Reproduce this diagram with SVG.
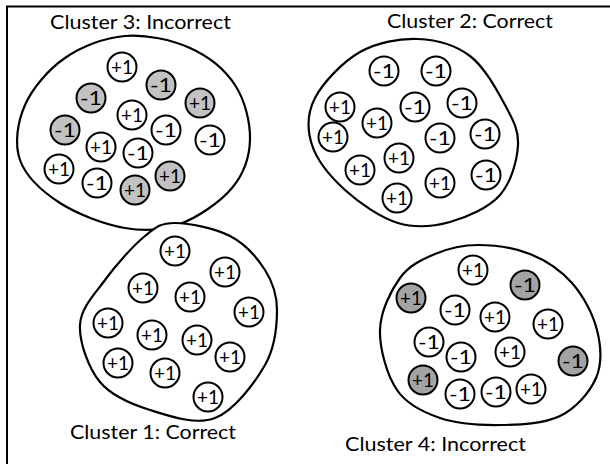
<svg xmlns="http://www.w3.org/2000/svg" width="610" height="464" viewBox="0 0 610 464">
<style>
.frame{fill:none;stroke:#000;stroke-width:2}
.blob{fill:#fff;stroke:#000;stroke-width:2.2}
.n circle{fill:#fff;stroke:#000;stroke-width:2}
.n.g3 circle{fill:#c2c2c2}
.n.g4 circle{fill:#a3a3a3}
.n text{font-family:Lato,"Liberation Sans",sans-serif;font-size:20px;text-anchor:middle;fill:#000}
.title{font-family:Lato,"Liberation Sans",sans-serif;font-size:19.5px;fill:#000}
</style>
<rect width="610" height="464" fill="#fff"/>
<path class="frame" d="M7,464 V6.5 H610"/>
<g id="connectors"/>

<g id="cluster3">
<text class="title" x="50" y="29" textLength="181" lengthAdjust="spacingAndGlyphs">Cluster 3: Incorrect</text>
<path class="blob" d="M125,36 C145.8,34.3 171.7,39.8 190,48 C208.3,56.2 225,69.7 235,85 C245,100.3 250.5,122.8 250,140 C249.5,157.2 243.7,174 232,188 C220.3,202 197.8,217.3 180,224 C162.2,230.7 145,231.5 125,228 C105,224.5 77.5,214.3 60,203 C42.5,191.7 25.8,176.3 20,160 C14.2,143.7 17.5,122 25,105 C32.5,88 48.3,69.5 65,58 C81.7,46.5 104.2,37.7 125,36 Z"/>
<g id="c3n1" class="n"><circle cx="122" cy="67" r="14.5"/><text x="122" y="74" textLength="22" lengthAdjust="spacingAndGlyphs">+1</text></g>
<g id="c3n2" class="n g3"><circle cx="161" cy="85" r="14.5"/><text x="161" y="92" textLength="22" lengthAdjust="spacingAndGlyphs">-1</text></g>
<g id="c3n3" class="n g3"><circle cx="91" cy="98" r="14.5"/><text x="91" y="105" textLength="22" lengthAdjust="spacingAndGlyphs">-1</text></g>
<g id="c3n4" class="n g3"><circle cx="200" cy="103" r="14.5"/><text x="200" y="110" textLength="22" lengthAdjust="spacingAndGlyphs">+1</text></g>
<g id="c3n5" class="n"><circle cx="132" cy="115" r="14.5"/><text x="132" y="122" textLength="22" lengthAdjust="spacingAndGlyphs">+1</text></g>
<g id="c3n6" class="n g3"><circle cx="65" cy="130" r="14.5"/><text x="65" y="137" textLength="22" lengthAdjust="spacingAndGlyphs">-1</text></g>
<g id="c3n7" class="n"><circle cx="166" cy="130" r="14.5"/><text x="166" y="137" textLength="22" lengthAdjust="spacingAndGlyphs">-1</text></g>
<g id="c3n8" class="n"><circle cx="210" cy="140" r="14.5"/><text x="210" y="147" textLength="22" lengthAdjust="spacingAndGlyphs">-1</text></g>
<g id="c3n9" class="n"><circle cx="101" cy="147" r="14.5"/><text x="101" y="154" textLength="22" lengthAdjust="spacingAndGlyphs">+1</text></g>
<g id="c3n10" class="n"><circle cx="138" cy="153" r="14.5"/><text x="138" y="160" textLength="22" lengthAdjust="spacingAndGlyphs">-1</text></g>
<g id="c3n11" class="n"><circle cx="59" cy="169" r="14.5"/><text x="59" y="176" textLength="22" lengthAdjust="spacingAndGlyphs">+1</text></g>
<g id="c3n12" class="n"><circle cx="97" cy="183" r="14.5"/><text x="97" y="190" textLength="22" lengthAdjust="spacingAndGlyphs">-1</text></g>
<g id="c3n13" class="n g3"><circle cx="135" cy="190" r="14.5"/><text x="135" y="197" textLength="22" lengthAdjust="spacingAndGlyphs">+1</text></g>
<g id="c3n14" class="n g3"><circle cx="170" cy="176" r="14.5"/><text x="170" y="183" textLength="22" lengthAdjust="spacingAndGlyphs">+1</text></g>
</g>

<g id="cluster2">
<text class="title" x="387" y="27.5" textLength="166" lengthAdjust="spacingAndGlyphs">Cluster 2: Correct</text>
<path class="blob" d="M418,39 C436.3,39.7 455.5,45 470,56 C484.5,67 497,90.2 505,105 C513,119.8 518.8,130 518,145 C517.2,160 511.3,182.2 500,195 C488.7,207.8 467,217.3 450,222 C433,226.7 415.5,228.3 398,223 C380.5,217.7 359.3,203 345,190 C330.7,177 317,160.3 312,145 C307,129.7 307,113.5 315,98 C323,82.5 342.8,61.8 360,52 C377.2,42.2 399.7,38.3 418,39 Z"/>
<g id="c2n1" class="n"><circle cx="384" cy="71" r="14.5"/><text x="384" y="78" textLength="22" lengthAdjust="spacingAndGlyphs">-1</text></g>
<g id="c2n2" class="n"><circle cx="436" cy="71" r="14.5"/><text x="436" y="78" textLength="22" lengthAdjust="spacingAndGlyphs">-1</text></g>
<g id="c2n3" class="n"><circle cx="340" cy="107" r="14.5"/><text x="340" y="114" textLength="22" lengthAdjust="spacingAndGlyphs">+1</text></g>
<g id="c2n4" class="n"><circle cx="415" cy="107" r="14.5"/><text x="415" y="114" textLength="22" lengthAdjust="spacingAndGlyphs">-1</text></g>
<g id="c2n5" class="n"><circle cx="462" cy="103" r="14.5"/><text x="462" y="110" textLength="22" lengthAdjust="spacingAndGlyphs">-1</text></g>
<g id="c2n6" class="n"><circle cx="377" cy="123" r="14.5"/><text x="377" y="130" textLength="22" lengthAdjust="spacingAndGlyphs">+1</text></g>
<g id="c2n7" class="n"><circle cx="333" cy="137" r="14.5"/><text x="333" y="144" textLength="22" lengthAdjust="spacingAndGlyphs">+1</text></g>
<g id="c2n8" class="n"><circle cx="440" cy="138" r="14.5"/><text x="440" y="145" textLength="22" lengthAdjust="spacingAndGlyphs">-1</text></g>
<g id="c2n9" class="n"><circle cx="485" cy="134" r="14.5"/><text x="485" y="141" textLength="22" lengthAdjust="spacingAndGlyphs">-1</text></g>
<g id="c2n10" class="n"><circle cx="399" cy="158" r="14.5"/><text x="399" y="165" textLength="22" lengthAdjust="spacingAndGlyphs">+1</text></g>
<g id="c2n11" class="n"><circle cx="360" cy="170" r="14.5"/><text x="360" y="177" textLength="22" lengthAdjust="spacingAndGlyphs">+1</text></g>
<g id="c2n12" class="n"><circle cx="486" cy="175" r="14.5"/><text x="486" y="182" textLength="22" lengthAdjust="spacingAndGlyphs">-1</text></g>
<g id="c2n13" class="n"><circle cx="440" cy="183" r="14.5"/><text x="440" y="190" textLength="22" lengthAdjust="spacingAndGlyphs">+1</text></g>
<g id="c2n14" class="n"><circle cx="397" cy="198" r="14.5"/><text x="397" y="205" textLength="22" lengthAdjust="spacingAndGlyphs">+1</text></g>
</g>

<g id="cluster1">
<text class="title" x="70" y="438.5" textLength="166" lengthAdjust="spacingAndGlyphs">Cluster 1: Correct</text>
<path class="blob" d="M175,223 C189.2,223 215,228.2 230,236 C245,243.8 257.2,257.7 265,270 C272.8,282.3 277,294.2 277,310 C277,325.8 275.3,347 265,365 C254.7,383 234.2,410.5 215,418 C195.8,425.5 169.2,416 150,410 C130.8,404 111.7,396.2 100,382 C88.3,367.8 79.2,342 80,325 C80.8,308 94.2,294.8 105,280 C115.8,265.2 133.3,245.5 145,236 C156.7,226.5 160.8,223 175,223 Z"/>
<g id="c1n1" class="n"><circle cx="175" cy="251" r="14.5"/><text x="175" y="258" textLength="22" lengthAdjust="spacingAndGlyphs">+1</text></g>
<g id="c1n2" class="n"><circle cx="225" cy="272" r="14.5"/><text x="225" y="279" textLength="22" lengthAdjust="spacingAndGlyphs">+1</text></g>
<g id="c1n3" class="n"><circle cx="143" cy="288" r="14.5"/><text x="143" y="295" textLength="22" lengthAdjust="spacingAndGlyphs">+1</text></g>
<g id="c1n4" class="n"><circle cx="190" cy="297" r="14.5"/><text x="190" y="304" textLength="22" lengthAdjust="spacingAndGlyphs">+1</text></g>
<g id="c1n5" class="n"><circle cx="249" cy="312" r="14.5"/><text x="249" y="319" textLength="22" lengthAdjust="spacingAndGlyphs">+1</text></g>
<g id="c1n6" class="n"><circle cx="108" cy="323" r="14.5"/><text x="108" y="330" textLength="22" lengthAdjust="spacingAndGlyphs">+1</text></g>
<g id="c1n7" class="n"><circle cx="152" cy="335" r="14.5"/><text x="152" y="342" textLength="22" lengthAdjust="spacingAndGlyphs">+1</text></g>
<g id="c1n8" class="n"><circle cx="197" cy="340" r="14.5"/><text x="197" y="347" textLength="22" lengthAdjust="spacingAndGlyphs">+1</text></g>
<g id="c1n9" class="n"><circle cx="118" cy="363" r="14.5"/><text x="118" y="370" textLength="22" lengthAdjust="spacingAndGlyphs">+1</text></g>
<g id="c1n10" class="n"><circle cx="230" cy="357" r="14.5"/><text x="230" y="364" textLength="22" lengthAdjust="spacingAndGlyphs">+1</text></g>
<g id="c1n11" class="n"><circle cx="165" cy="373" r="14.5"/><text x="165" y="380" textLength="22" lengthAdjust="spacingAndGlyphs">+1</text></g>
<g id="c1n12" class="n"><circle cx="208" cy="397" r="14.5"/><text x="208" y="404" textLength="22" lengthAdjust="spacingAndGlyphs">+1</text></g>
</g>

<g id="cluster4">
<text class="title" x="345" y="450.5" textLength="181" lengthAdjust="spacingAndGlyphs">Cluster 4: Incorrect</text>
<path class="blob" d="M478,245 C493.8,245 514.3,247.7 530,254 C545.7,260.3 560.8,270.3 572,283 C583.2,295.7 593,314.2 597,330 C601,345.8 602.2,363.7 596,378 C589.8,392.3 576,408.2 560,416 C544,423.8 520,424.7 500,425 C480,425.3 457.2,423.8 440,418 C422.8,412.2 407,404.7 397,390 C387,375.3 379.5,348.7 380,330 C380.5,311.3 390.8,290.7 400,278 C409.2,265.3 422,259.5 435,254 C448,248.5 462.2,245 478,245 Z"/>
<g id="c4n1" class="n"><circle cx="473" cy="270" r="14.5"/><text x="473" y="277" textLength="22" lengthAdjust="spacingAndGlyphs">+1</text></g>
<g id="c4n2" class="n g4"><circle cx="525" cy="285" r="14.5"/><text x="525" y="292" textLength="22" lengthAdjust="spacingAndGlyphs">-1</text></g>
<g id="c4n3" class="n g4"><circle cx="411" cy="298" r="14.5"/><text x="411" y="305" textLength="22" lengthAdjust="spacingAndGlyphs">+1</text></g>
<g id="c4n4" class="n"><circle cx="455" cy="310" r="14.5"/><text x="455" y="317" textLength="22" lengthAdjust="spacingAndGlyphs">-1</text></g>
<g id="c4n5" class="n"><circle cx="495" cy="317" r="14.5"/><text x="495" y="324" textLength="22" lengthAdjust="spacingAndGlyphs">+1</text></g>
<g id="c4n6" class="n"><circle cx="548" cy="324" r="14.5"/><text x="548" y="331" textLength="22" lengthAdjust="spacingAndGlyphs">+1</text></g>
<g id="c4n7" class="n"><circle cx="429" cy="342" r="14.5"/><text x="429" y="349" textLength="22" lengthAdjust="spacingAndGlyphs">-1</text></g>
<g id="c4n8" class="n"><circle cx="461" cy="357" r="14.5"/><text x="461" y="364" textLength="22" lengthAdjust="spacingAndGlyphs">-1</text></g>
<g id="c4n9" class="n"><circle cx="510" cy="352" r="14.5"/><text x="510" y="359" textLength="22" lengthAdjust="spacingAndGlyphs">+1</text></g>
<g id="c4n10" class="n g4"><circle cx="573" cy="361" r="14.5"/><text x="573" y="368" textLength="22" lengthAdjust="spacingAndGlyphs">-1</text></g>
<g id="c4n11" class="n g4"><circle cx="423" cy="380" r="14.5"/><text x="423" y="387" textLength="22" lengthAdjust="spacingAndGlyphs">+1</text></g>
<g id="c4n12" class="n"><circle cx="460" cy="394" r="14.5"/><text x="460" y="401" textLength="22" lengthAdjust="spacingAndGlyphs">-1</text></g>
<g id="c4n13" class="n"><circle cx="496" cy="392" r="14.5"/><text x="496" y="399" textLength="22" lengthAdjust="spacingAndGlyphs">-1</text></g>
<g id="c4n14" class="n"><circle cx="531" cy="389" r="14.5"/><text x="531" y="396" textLength="22" lengthAdjust="spacingAndGlyphs">+1</text></g>
</g>
</svg>
